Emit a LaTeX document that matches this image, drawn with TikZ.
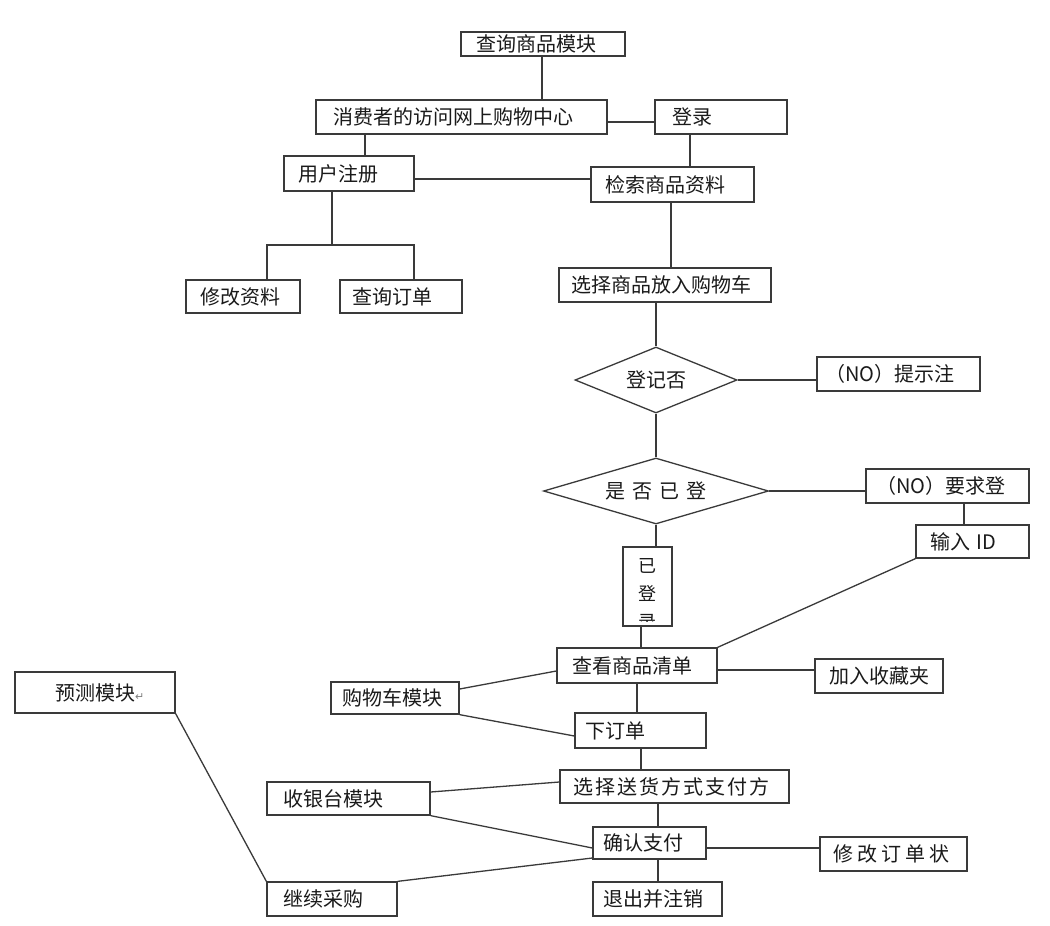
\documentclass[tikz,border=0pt]{standalone}
\usepackage{fontspec}
\setmainfont{Noto Sans CJK SC}
\newfontfamily\symf{DejaVu Sans}
\usetikzlibrary{shapes.geometric}
\definecolor{lc}{HTML}{3A3A3A}
\definecolor{tc}{HTML}{1A1A1A}
\tikzset{
  box/.style={draw=lc, line width=1.3pt, rectangle, inner ysep=0pt, align=left,
    text=tc, font=\fontsize{20}{23}\selectfont},
  dia/.style={draw=lc, line width=1.3pt, diamond, inner sep=0pt, aspect=3,
    text=tc, font=\fontsize{20}{23}\selectfont},
  ln/.style={draw=lc, line width=1.3pt},
}
\newcommand\bx[7][13]{%
  \pgfmathsetmacro\bw{#5-#3-2*#1}%
  \pgfmathsetmacro\bh{#6-#4}%
  \node[box, inner xsep=#1pt, text width=\bw pt, minimum height=\bh pt]
    (#2) at ({(#3+#5)/2},{(#4+#6)/2}) {#7};}
\begin{document}
\begin{tikzpicture}[x=1pt,y=-1pt]
\path[fill=white, use as bounding box] (0,0) rectangle (1050,926);
% boxes
\bx[15]{q}{461}{32}{625}{56}{\raisebox{2pt}{查询商品模块}}
\bx[17]{c}{316}{100}{607}{134}{消费者的访问网上购物中心}
\bx[17]{d}{655}{100}{787}{134}{登录}
\bx[14]{u}{284}{156}{414}{191}{用户注册}
\bx[14]{s}{591}{167}{754}{202}{检索商品资料}
\bx[14]{m1}{186}{280}{300}{313}{修改资料}
\bx[12]{m2}{340}{280}{462}{313}{查询订单}
\bx[12]{p}{559}{268}{771}{302}{选择商品放入购物车}
\bx[8]{n1}{817}{357}{980}{391}{（NO）提示注}
\bx[10]{n2}{866}{469}{1029}{503}{（NO）要求登}
\bx[14]{id}{916}{525}{1029}{558}{输入 ID}
\bx[15]{v}{557}{648}{717}{683}{查看商品清单}
\bx[14]{f}{815}{659}{943}{693}{加入收藏夹}
\bx[11]{g}{331}{682}{459}{714}{购物车模块}
\bx[10]{o}{575}{713}{706}{748}{下订单}
\bx[40]{yc}{15}{672}{175}{713}{预测模块{\symf\fontsize{11}{11}\selectfont\color{gray}↵}}
\bx[13]{sh}{560}{770}{789}{803}{选\hspace{2pt}择\hspace{2pt}送\hspace{2pt}货\hspace{2pt}方\hspace{2pt}式\hspace{2pt}支\hspace{2pt}付\hspace{2pt}方}
\bx[16]{k}{267}{782}{430}{815}{收银台模块}
\bx[10]{cf}{593}{827}{706}{859}{确认支付}
\bx[13]{xg}{820}{837}{967}{871}{修\hspace{4pt}改\hspace{4pt}订\hspace{4pt}单\hspace{4pt}状}
\bx[16]{jx}{267}{882}{397}{916}{继续采购}
\bx[10]{tc}{593}{882}{722}{916}{退出并注销}
% vertical box (text clipped at bottom)
\node[draw=lc, line width=1.3pt, minimum width=49pt, minimum height=79pt, inner sep=0pt]
  (yl) at (647.5,586.5) {};
\begin{scope}
  \clip (623,547) rectangle (672,621);
  \node[align=center, text=tc, font=\fontsize{18}{28}\selectfont, inner sep=0pt]
    (ylt) at (647.5,594) {已\\登\\录};
\end{scope}
% diamonds
\node[dia, minimum width=162pt, minimum height=66pt] (d1) at (656,380) {登记否};
\node[dia, minimum width=225pt, minimum height=66pt] (d2) at (656,491)
  {是\hspace{7pt}否\hspace{7pt}已\hspace{7pt}登};
% connectors
\draw[ln] (542,0 |- q.south) -- (542,0 |- c.north);
\draw[ln] (c.east |- 0,122) -- (d.west |- 0,122);
\draw[ln] (365,0 |- c.south) -- (365,0 |- u.north);
\draw[ln] (u.east |- 0,179) -- (s.west |- 0,179);
\draw[ln] (690,0 |- d.south) -- (690,0 |- s.north);
\coordinate (br) at (332,245);
\draw[ln] (332,0 |- u.south) -- (br);
\draw[ln] (267,0 |- m1.north) |- (br) -| (414,0 |- m2.north);
\draw[ln] (671,0 |- s.south) -- (671,0 |- p.north);
\draw[ln] (d1.north |- p.south) -- (d1.north);
\draw[ln] (d1.east) -- (d1.east -| n1.west);
\draw[ln] (d1.south) -- (d2.north);
\draw[ln] (d2.east) -- (d2.east -| n2.west);
\draw[ln] (964,0 |- n2.south) -- (964,0 |- id.north);
\draw[ln] (d2.south) -- (d2.south |- yl.north);
\draw[ln] (641,0 |- yl.south) -- (641,0 |- v.north);
\draw[ln] (id.south west) -- (v.north east);
\draw[ln] (v.east |- 0,670) -- (f.west |- 0,670);
\draw[ln] (g.east |- 0,689) -- (v.west |- 0,671);
\draw[ln] (g.south east) -- (o.west |- 0,736);
\draw[ln] (637,0 |- v.south) -- (637,0 |- o.north);
\draw[ln] (641,0 |- o.south) -- (641,0 |- sh.north);
\draw[ln] (658,0 |- sh.south) -- (658,0 |- cf.north);
\draw[ln] (k.east |- 0,792) -- (sh.west |- 0,782);
\draw[ln] (k.south east) -- (cf.west |- 0,848);
\draw[ln] (jx.north east) -- (cf.west |- 0,858);
\draw[ln] (cf.east |- 0,848) -- (xg.west |- 0,848);
\draw[ln] (658,0 |- cf.south) -- (658,0 |- tc.north);
\draw[ln] (yc.south east) -- (jx.north west);
\end{tikzpicture}
\end{document}
